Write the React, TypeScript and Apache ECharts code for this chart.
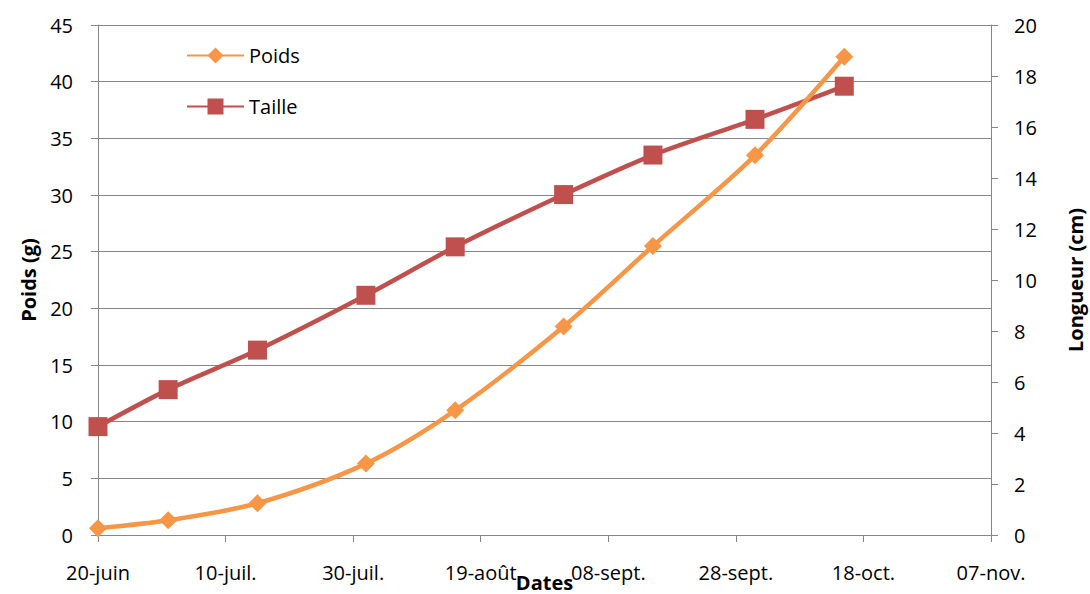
import React, { useEffect, useRef } from "react";
import * as echarts from "echarts";

const startDate = "2013-06-20";
const dates = ["2013-06-20", "2013-07-01", "2013-07-15", "2013-08-01", "2013-08-15", "2013-09-01", "2013-09-15", "2013-10-01", "2013-10-15"];
const poids = [0.6, 1.3, 2.8, 6.3, 11.0, 18.4, 25.5, 33.5, 42.2];
const taille = [4.25, 5.7, 7.25, 9.4, 11.3, 13.35, 14.9, 16.3, 17.6];
const xTickLabels = ["20-juin", "10-juil.", "30-juil.", "19-août", "08-sept.", "28-sept.", "18-oct.", "07-nov."];

const DAY = 86400000;
const dayOffset = (d: string) => Math.round((Date.parse(d) - Date.parse(startDate)) / DAY);

const FONT = "'Open Sans', sans-serif";

export default function App() {
  const ref = useRef<HTMLDivElement>(null);
  useEffect(() => {
    if (!ref.current) return;
    const chart = echarts.init(ref.current, null, { renderer: "svg" });
    const axisCol = "#868686";
    const labelStyle = { color: "#000", fontSize: 20, fontFamily: FONT };
    const nameStyle = { color: "#000", fontSize: 20, fontWeight: "bold" as const, fontFamily: FONT };
    chart.setOption({
      animation: false,
      backgroundColor: "#fff",
      grid: { left: 98, right: 99, top: 25, bottom: 59, containLabel: false, outerBoundsMode: "none" },
      legend: {
        orient: "vertical",
        left: 181,
        top: 40,
        itemWidth: 57,
        itemHeight: 20,
        itemGap: 30,
        textStyle: { color: "#000", fontSize: 20, lineHeight: 21, fontFamily: FONT },
        data: ["Poids", "Taille"],
      },
      xAxis: {
        type: "value",
        min: 0,
        max: 140,
        interval: 20,
        name: "Dates",
        nameLocation: "middle",
        nameGap: 37,
        nameMoveOverlap: false,
        nameTextStyle: nameStyle,
        axisLine: { show: true, lineStyle: { color: axisCol, width: 1 } },
        axisTick: { show: true, length: 7, lineStyle: { color: axisCol } },
        axisLabel: {
          ...labelStyle,
          margin: 27,
          showMinLabel: true,
          showMaxLabel: true,
          formatter: (v: number) => xTickLabels[Math.round(v / 20)] ?? "",
        },
        splitLine: { show: false },
      },
      yAxis: [
        {
          type: "value",
          min: 0,
          max: 45,
          interval: 5,
          name: "Poids (g)",
          nameLocation: "middle",
          nameRotate: 90,
          nameGap: 60,
          nameMoveOverlap: false,
          nameTextStyle: nameStyle,
          axisLine: { show: true, lineStyle: { color: axisCol } },
          axisTick: { show: true, length: 7, lineStyle: { color: axisCol } },
          axisLabel: { ...labelStyle, margin: 25 },
          splitLine: { show: true, lineStyle: { color: axisCol, width: 1 } },
        },
        {
          type: "value",
          min: 0,
          max: 20,
          interval: 2,
          position: "right",
          name: "Longueur (cm)",
          nameLocation: "middle",
          nameRotate: 90,
          nameGap: 74,
          nameMoveOverlap: false,
          nameTextStyle: nameStyle,
          axisLine: { show: true, lineStyle: { color: axisCol } },
          axisTick: { show: true, length: 7, lineStyle: { color: axisCol } },
          axisLabel: { ...labelStyle, margin: 23 },
          splitLine: { show: false },
        },
      ],
      series: [
        {
          name: "Poids",
          type: "line",
          yAxisIndex: 0,
          smooth: 0.3,
          symbol: "diamond",
          symbolSize: 18,
          color: "#F79646",
          lineStyle: { width: 4.5, color: "#F79646" },
          itemStyle: { color: "#F79646" },
          data: dates.map((d, i) => [dayOffset(d), poids[i]]),
          z: 3,
        },
        {
          name: "Taille",
          type: "line",
          yAxisIndex: 1,
          smooth: 0.3,
          symbol: "rect",
          symbolSize: 19,
          color: "#C0504D",
          lineStyle: { width: 4.5, color: "#C0504D" },
          itemStyle: { color: "#C0504D" },
          data: dates.map((d, i) => [dayOffset(d), taille[i]]),
          z: 2,
        },
      ],
    });
    return () => chart.dispose();
  }, []);
  return (
    <div
      ref={ref}
      style={{ position: "fixed", left: 0, top: 0, width: 1090, height: 594, background: "#fff" }}
    />
  );
}
